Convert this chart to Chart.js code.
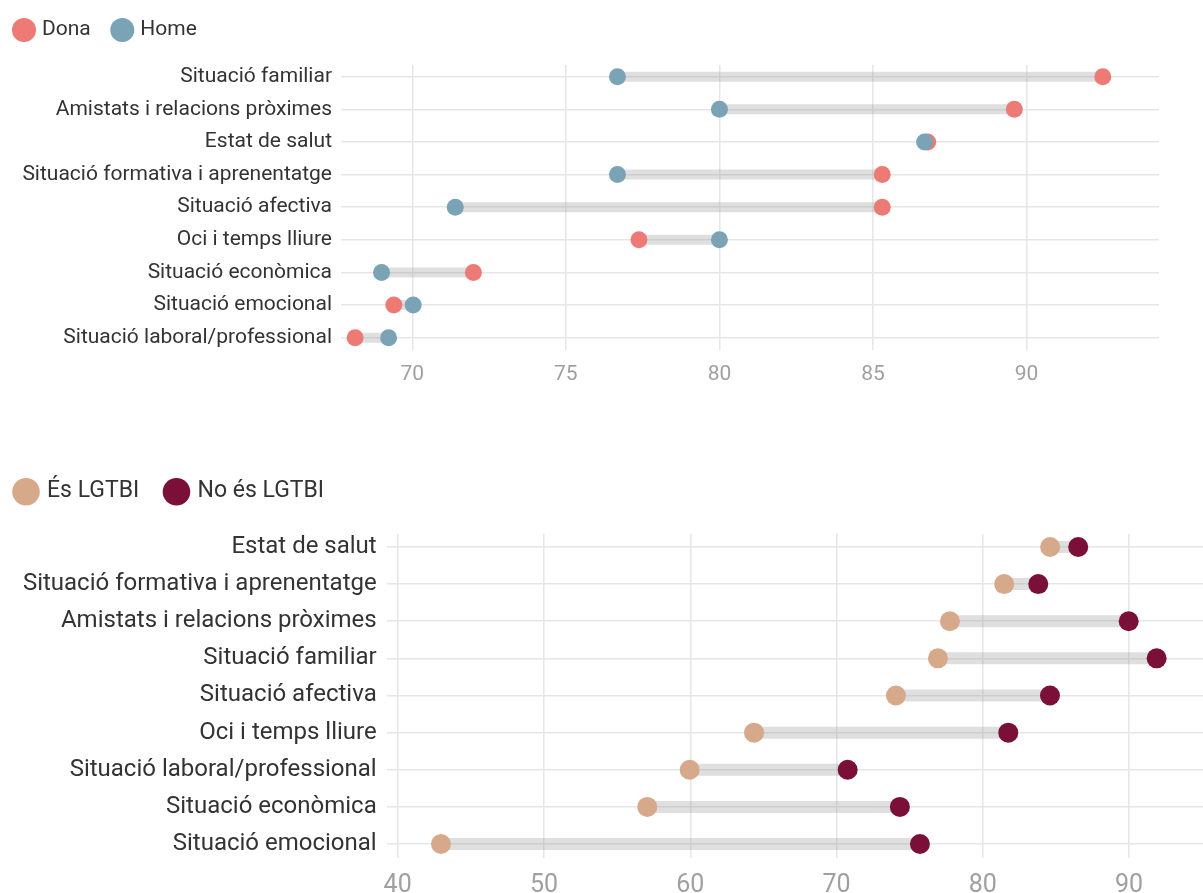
<!DOCTYPE html>
<html>
<head>
<meta charset="utf-8">
<script src="https://cdn.jsdelivr.net/npm/chart.js@4"></script>
<style>
html,body{margin:0;padding:0;background:#fff;overflow:hidden;width:1203px;height:893px;}
#c1{position:absolute;left:0;top:0;}
#c2{position:absolute;left:0;top:440px;}
</style>
</head>
<body>
<canvas id="c1" width="1203" height="400"></canvas>
<canvas id="c2" width="1213" height="453"></canvas>
<script>
// ---- Data: chart 1 (gender) ----
const categories1 = ['Situació familiar','Amistats i relacions pròximes','Estat de salut','Situació formativa i aprenentatge','Situació afectiva','Oci i temps lliure','Situació econòmica','Situació emocional','Situació laboral/professional'];
const dona = [92.48, 89.6, 86.78, 85.3, 85.3, 77.38, 71.99, 69.4, 68.14];
const home = [76.68, 80.0, 86.68, 76.68, 71.4, 80.0, 69.0, 70.03, 69.23];
const xTicks1 = [70, 75, 80, 85, 90];

// ---- Data: chart 2 (LGTBI) ----
const categories2 = ['Estat de salut','Situació formativa i aprenentatge','Amistats i relacions pròximes','Situació familiar','Situació afectiva','Oci i temps lliure','Situació laboral/professional','Situació econòmica','Situació emocional'];
const esLgtbi = [84.6, 81.46, 77.75, 76.93, 74.06, 64.36, 59.96, 57.06, 42.96];
const noEsLgtbi = [86.52, 83.79, 89.97, 91.88, 84.59, 81.74, 70.76, 74.33, 75.7];
const xTicks2 = [40, 50, 60, 70, 80, 90];

Chart.defaults.font.family = 'Roboto';
Chart.defaults.color = '#333';

function toPoints(vals){ return vals.map((v,i)=>({x:v,y:i})); }
function connector(a,b){
  const pts=[];
  a.forEach((v,i)=>{ pts.push({x:Math.min(v,b[i]),y:i}); pts.push({x:Math.max(v,b[i]),y:i}); pts.push({x:null,y:null}); });
  return pts;
}

function build(canvas, o){
  const common = {xAxisID:'x', yAxisID:'y'};
  return new Chart(canvas, {
    type:'scatter',
    data:{
      datasets:[
        Object.assign({label:o.names[0], data:toPoints(o.a), backgroundColor:o.colors[0], borderWidth:0, pointRadius:o.r, pointBorderWidth:0, pointStyle:'circle', order:1}, common),
        Object.assign({label:o.names[1], data:toPoints(o.b), backgroundColor:o.colors[1], borderWidth:0, pointRadius:o.r, pointBorderWidth:0, pointStyle:'circle', order:0}, common),
        Object.assign({label:'_conn', data:connector(o.a,o.b), showLine:true, spanGaps:false, pointRadius:0, borderColor:'rgba(150,150,150,0.30)', backgroundColor:'rgba(0,0,0,0)', borderWidth:o.barW, borderCapStyle:'butt', order:2}, common)
      ]
    },
    options:{
      responsive:false, animation:false, devicePixelRatio:1, events:[],
      layout:{padding:o.pad},
      plugins:{
        tooltip:{enabled:false},
        legend:{
          position:'top', align:'start',
          labels:{
            usePointStyle:true, pointStyle:'circle', color:'#333',
            font:{size:o.legFont}, padding:o.legPad, boxWidth:o.legBoxW, boxHeight:o.legBoxH,
            filter:(it)=>it.datasetIndex<2,
            sort:(a,b)=>a.datasetIndex-b.datasetIndex
          }
        }
      },
      scales:{
        gap:{type:'linear', position:'top', display:true, grid:{display:false}, border:{display:false}, ticks:{display:false},
             afterFit:(s)=>{s.height=o.gap;}},
        x:{type:'linear', position:'bottom', min:o.xmin, max:o.xmax,
           grid:{color:'#e6e6e6', lineWidth:1.5, drawTicks:false},
           border:{display:false},
           ticks:{color:'#a0a0a0', font:{size:o.xFont}, padding:o.xPad},
           afterBuildTicks:(s)=>{s.ticks=o.xTicks.map(v=>({value:v}));},
           afterFit:(s)=>{s.height=o.xH;}},
        y:{type:'linear', reverse:true, min:o.ymin, max:o.ymax,
           grid:{color:'#e6e6e6', lineWidth:1.5, drawTicks:false},
           border:{display:false},
           ticks:{color:'#333', font:{size:o.yFont}, padding:o.yPad, callback:(v)=>o.cats[v]},
           afterBuildTicks:(s)=>{s.ticks=o.cats.map((c,i)=>({value:i}));},
           afterFit:(s)=>{s.width=o.yW;}}
      }
    }
  });
}

build(document.getElementById('c1'), {
  names:['Dona','Home'], colors:['#ee7a75','#7aa3b6'], a:dona, b:home, cats:categories1,
  r:8.5, barW:10, xmin:67.68, xmax:94.31, xTicks:xTicks1, ymin:-0.36, ymax:8.378,
  pad:{left:-7.5, top:-4.5, right:44, bottom:0}, legFont:21, legPad:24, legBoxW:15, legBoxH:17, gap:14.5,
  xFont:21, xPad:12, xH:50, yFont:21, yPad:9, yW:348.5
});

build(document.getElementById('c2'), {
  names:['És LGTBI','No és LGTBI'], colors:['#d5a98a','#7a1037'], a:esLgtbi, b:noEsLgtbi, cats:categories2,
  r:10, barW:12, xmin:39.25, xmax:95.05, xTicks:xTicks2, ymin:-0.357, ymax:8.384,
  pad:{left:-11.2, top:12.5, right:0, bottom:0}, legFont:23, legPad:27.7, legBoxW:19, legBoxH:19.5, gap:20.5,
  xFont:25, xPad:12, xH:34.7, yFont:24, yPad:10, yW:397.9
});
</script>
</body>
</html>
